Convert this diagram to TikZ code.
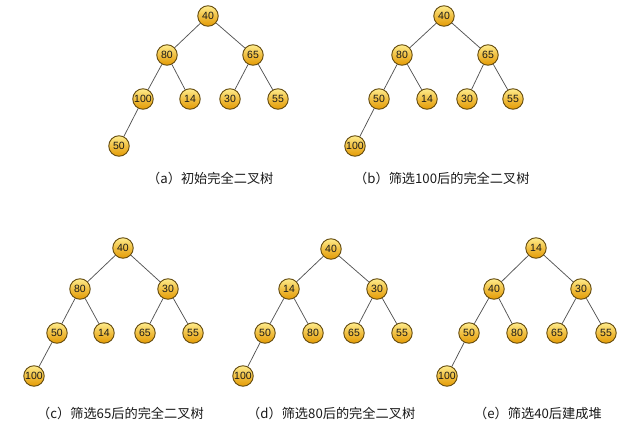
\documentclass[tikz,border=0pt]{standalone}
\usepackage{fontspec}
\setmainfont{Liberation Sans}
\newfontfamily\cjk{Noto Sans CJK SC}
\definecolor{nodetop}{RGB}{255,236,140}
\definecolor{nodebot}{RGB}{228,155,5}
\definecolor{nodeedge}{RGB}{100,75,15}
\definecolor{linkgray}{RGB}{85,85,85}
\definecolor{captxt}{RGB}{25,25,25}
\tikzset{
  heapnode/.style={circle, draw=nodeedge, line width=0.9pt, minimum size=20.5pt, inner sep=0pt,
    top color=nodetop, bottom color=nodebot, middle color=nodebot!55!nodetop,
    font=\fontsize{10.5}{11}\selectfont, text=black!90},
  link/.style={draw=linkgray, line width=0.75pt},
  caption/.style={anchor=west, inner sep=0pt, text=captxt, font=\cjk\fontsize{13.2}{14}\selectfont}
}
\begin{document}
\begin{tikzpicture}[x=1pt,y=-1pt]
\useasboundingbox (0,0) rectangle (640,433);
% (a)
\node[heapnode] (a1) at (208,16) {40};
\node[heapnode] (a2) at (167,55) {80};
\node[heapnode] (a3) at (253,55) {65};
\node[heapnode] (a4) at (143,99) {100};
\node[heapnode] (a5) at (190,99) {14};
\node[heapnode] (a6) at (230,99) {30};
\node[heapnode] (a7) at (278,99) {55};
\node[heapnode] (a8) at (119,146) {50};
% (b)
\node[heapnode] (b1) at (444,16) {40};
\node[heapnode] (b2) at (402,55) {80};
\node[heapnode] (b3) at (488,55) {65};
\node[heapnode] (b4) at (379,99) {50};
\node[heapnode] (b5) at (427,99) {14};
\node[heapnode] (b6) at (467,99) {30};
\node[heapnode] (b7) at (513,99) {55};
\node[heapnode] (b8) at (355,146) {100};
% (c)
\node[heapnode] (c1) at (123,248) {40};
\node[heapnode] (c2) at (80,289) {80};
\node[heapnode] (c3) at (168,289) {30};
\node[heapnode] (c4) at (57,333) {50};
\node[heapnode] (c5) at (104,333) {14};
\node[heapnode] (c6) at (145,333) {65};
\node[heapnode] (c7) at (193,333) {55};
\node[heapnode] (c8) at (34,376) {100};
% (d)
\node[heapnode] (d1) at (331,249) {40};
\node[heapnode] (d2) at (289,289) {14};
\node[heapnode] (d3) at (377,289) {30};
\node[heapnode] (d4) at (265,333) {50};
\node[heapnode] (d5) at (313,333) {80};
\node[heapnode] (d6) at (354,333) {65};
\node[heapnode] (d7) at (402,333) {55};
\node[heapnode] (d8) at (243,376) {100};
% (e)
\node[heapnode] (e1) at (536,248) {14};
\node[heapnode] (e2) at (494,289) {40};
\node[heapnode] (e3) at (581,289) {30};
\node[heapnode] (e4) at (469,333) {50};
\node[heapnode] (e5) at (517,333) {80};
\node[heapnode] (e6) at (557,333) {65};
\node[heapnode] (e7) at (606,333) {55};
\node[heapnode] (e8) at (447,376) {100};
% edges
\foreach \t in {a,b,c,d,e}{
  \draw[link] (\t1) -- (\t2);
  \draw[link] (\t1) -- (\t3);
  \draw[link] (\t2) -- (\t4);
  \draw[link] (\t2) -- (\t5);
  \draw[link] (\t3) -- (\t6);
  \draw[link] (\t3) -- (\t7);
  \draw[link] (\t4) -- (\t8);
}
% captions
\node[caption] (capa) at (147,178) {（a）初始完全二叉树};
\node[caption] (capb) at (354,178) {（b）筛选100后的完全二叉树};
\node[caption] (capc) at (37,413) {（c）筛选65后的完全二叉树};
\node[caption] (capd) at (247,413) {（d）筛选80后的完全二叉树};
\node[caption] (cape) at (474,413) {（e）筛选40后建成堆};
\end{tikzpicture}
\end{document}
